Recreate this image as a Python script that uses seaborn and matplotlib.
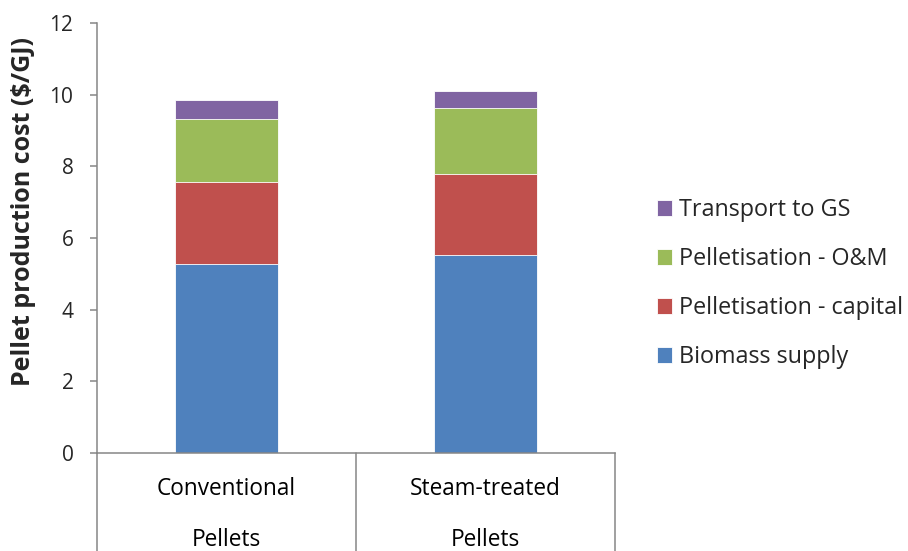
import matplotlib
matplotlib.use("Agg")
import matplotlib.pyplot as plt
import matplotlib.transforms as mtransforms
import seaborn as sns
import numpy as np

# Pellet production cost breakdown ($/GJ)
categories = ["Conventional", "Steam-treated"]
category_group = ["Pellets", "Pellets"]
biomass_supply = [5.27, 5.53]
pellet_capital = [2.30, 2.25]
pellet_om = [1.76, 1.84]
transport_gs = [0.53, 0.48]

series_names = ["Biomass supply", "Pelletisation - capital",
                "Pelletisation - O&M", "Transport to GS"]
series_colors = ["#4F81BD", "#C0504D", "#9BBB59", "#8064A2"]
y_ticks = [0, 2, 4, 6, 8, 10, 12]

sns.set_style("white")
plt.rcParams["font.family"] = ["Open Sans", "DejaVu Sans"]

fig = plt.figure(figsize=(9.08, 5.51), dpi=100)
ax = fig.add_axes([97 / 908, 98 / 551, 518 / 908, 430 / 551])

# Stack by drawing cumulative totals from the top layer down
layers = [biomass_supply, pellet_capital, pellet_om, transport_gs]
cumulative = np.cumsum(np.array(layers), axis=0)
handles = {}
for i in reversed(range(len(layers))):
    sns.barplot(x=categories, y=cumulative[i], color=series_colors[i],
                saturation=1, width=0.4, ax=ax, label=series_names[i],
                edgecolor="#FFFFFF", linewidth=0.6)
    handles[series_names[i]] = ax.containers[-1]

ax.set_ylim(0, 12)
ax.set_xlim(-0.5, 1.5)
ax.set_yticks(y_ticks)
ax.set_yticklabels([str(t) for t in y_ticks], fontsize=15)
ax.set_xticks([])
ax.set_xlabel("")
ax.set_ylabel("")

axis_color = "#868686"
for side in ["top", "right"]:
    ax.spines[side].set_visible(False)
for side in ["left", "bottom"]:
    ax.spines[side].set_color(axis_color)
    ax.spines[side].set_linewidth(1.1)
ax.tick_params(axis="y", direction="out", length=5, width=1.1,
               color=axis_color, pad=12, left=True)

# Category table below the plot area
trans = mtransforms.blended_transform_factory(ax.transData, ax.transAxes)
for xv in [-0.5, 0.5, 1.5]:
    ax.plot([xv, xv], [0, -0.3], transform=trans, color=axis_color,
            linewidth=1.1, clip_on=False)

ftrans = mtransforms.blended_transform_factory(ax.transData, fig.transFigure)
for i, (cat, grp) in enumerate(zip(categories, category_group)):
    ax.text(i, (551 - 489) / 551, cat, transform=ftrans, ha="center",
            va="center", fontsize=16.3, color="black")
    ax.text(i, (551 - 540) / 551, grp, transform=ftrans, ha="center",
            va="center", fontsize=16.3, color="black")

fig.text(23.5 / 908, (551 - 211) / 551, "Pellet production cost ($/GJ)",
         rotation=90, ha="center", va="center", fontsize=18,
         fontweight="bold")

order = ["Transport to GS", "Pelletisation - O&M",
         "Pelletisation - capital", "Biomass supply"]
if ax.get_legend() is not None:
    ax.get_legend().remove()
fig.legend([handles[n] for n in order], order, loc="center left",
           bbox_to_anchor=(657 / 908, (551 - 283.5) / 551), frameon=False,
           fontsize=16.8, handlelength=0.65, handleheight=0.65,
           handletextpad=0.3, labelspacing=1.07, borderaxespad=0,
           borderpad=0)

fig.savefig("out.png", dpi=100)
